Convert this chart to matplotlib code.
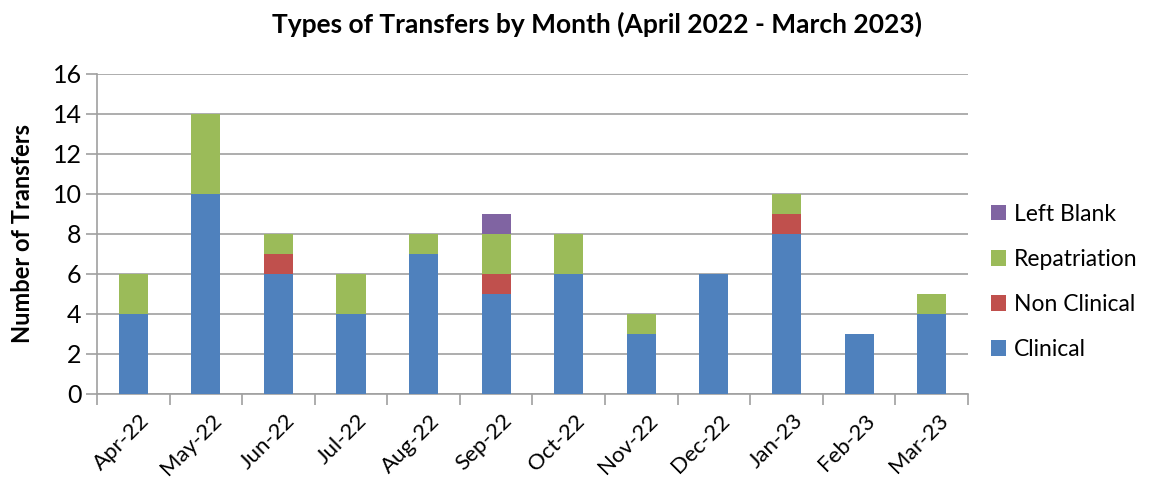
import matplotlib.pyplot as plt
import matplotlib.transforms as mtransforms
import numpy as np

plt.rcParams['font.family'] = ['Lato', 'DejaVu Sans']

months = ["Apr-22", "May-22", "Jun-22", "Jul-22", "Aug-22", "Sep-22",
          "Oct-22", "Nov-22", "Dec-22", "Jan-23", "Feb-23", "Mar-23"]
clinical = [4, 10, 6, 4, 7, 5, 6, 3, 6, 8, 3, 4]
non_clinical = [0, 0, 1, 0, 0, 1, 0, 0, 0, 1, 0, 0]
repatriation = [2, 4, 1, 2, 1, 2, 2, 1, 0, 1, 0, 1]
left_blank = [0, 0, 0, 0, 0, 1, 0, 0, 0, 0, 0, 0]

series = [
    ("Clinical", clinical, "#4F81BD"),
    ("Non Clinical", non_clinical, "#C0504D"),
    ("Repatriation", repatriation, "#9BBB59"),
    ("Left Blank", left_blank, "#8064A2"),
]

fig = plt.figure(figsize=(11.5, 4.82), dpi=100)
ax = fig.add_axes([0.0843, 0.1826, 0.7574, 0.6639])

x = np.arange(len(months))
bottom = np.zeros(len(months))
handles = []
for name, vals, col in series:
    vals = np.array(vals, dtype=float)
    b = ax.bar(x, vals, width=0.4, bottom=bottom, color=col, label=name, zorder=3)
    handles.append(b)
    bottom += vals

grid_col = "#A0A0A0"
ax.set_xlim(-0.5, len(months) - 0.5)
ax.set_ylim(0, 16)
ax.set_yticks(range(0, 17, 2))
ax.yaxis.grid(True, color=grid_col, linewidth=1.2, zorder=0)
ax.tick_params(axis='y', labelsize=18, length=8, width=1.2, color=grid_col, pad=3)

ax.set_xticks(x)
ax.set_xticklabels(months, rotation=45, ha='right', rotation_mode='anchor', fontsize=16)
ax.tick_params(axis='x', length=0, pad=12)
# nudge the rotated labels a little right, like Excel does
shift = mtransforms.ScaledTranslation(6 / 100, 0, fig.dpi_scale_trans)
for lab in ax.get_xticklabels():
    lab.set_transform(lab.get_transform() + shift)
ax.set_xticks(np.arange(-0.5, len(months), 1), minor=True)
ax.tick_params(axis='x', which='minor', length=8, width=1.2, color=grid_col)

for s in ['top', 'right']:
    ax.spines[s].set_visible(False)
for s in ['left', 'bottom']:
    ax.spines[s].set_color(grid_col)
    ax.spines[s].set_linewidth(1.2)

ax.set_ylabel("Number of Transfers", fontsize=17, fontweight='bold', labelpad=13)
fig.suptitle("Types of Transfers by Month (April 2022 - March 2023)",
             fontsize=19, fontweight='bold', x=0.519, y=0.975)

leg = ax.legend(handles[::-1], [s[0] for s in series][::-1],
                loc='center left', bbox_to_anchor=(1.0, 0.35), frameon=False,
                fontsize=16.5, handlelength=0.65, handleheight=0.65,
                handletextpad=0.35, labelspacing=1.05, borderaxespad=0.6)

fig.savefig("out.png", dpi=100)
